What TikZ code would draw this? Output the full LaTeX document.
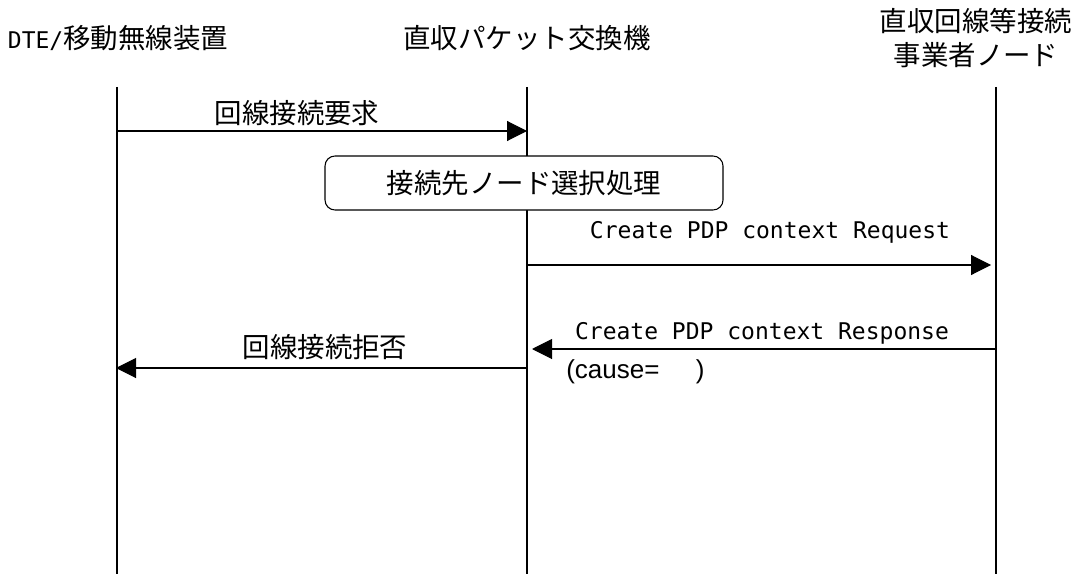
\documentclass[tikz,border=0pt]{standalone}
\usepackage{fontspec}
\setmainfont{Noto Sans CJK JP}
\newfontfamily\monofont{DejaVu Sans Mono}
\newfontfamily\latfont{Liberation Sans}
\usetikzlibrary{arrows.meta}
\begin{document}
\begin{tikzpicture}[x=0.75pt,y=-0.75pt,
  jp/.style={inner sep=0pt,font=\fontsize{20.6pt}{25.5pt}\selectfont},
  msgmono/.style={inner sep=0pt,font=\monofont\fontsize{17.25pt}{20pt}\selectfont},
  lifeline/.style={line width=0.8pt},
  msg/.style={line width=0.8pt,-{Triangle[length=15pt,width=15pt]}},
  procbox/.style={draw,fill=white,line width=0.8pt,rounded corners=7.5pt,
    minimum width=298.5pt,minimum height=40.5pt,inner sep=0pt,
    font=\fontsize{20.6pt}{25.5pt}\selectfont}]
\useasboundingbox (0,0) rectangle (1080,574);

% entity headers
\node[jp] (hA) at (118,38) {{\monofont\fontsize{17.25pt}{20pt}\selectfont DTE/}移動無線装置};
\node[jp] (hB) at (527,38) {直収パケット交換機};
\node[jp,align=center] (hC) at (976,38) {直収回線等接続\\事業者ノード};

% lifelines
\coordinate (tA) at (117,87);  \coordinate (bA) at (117,574);
\coordinate (tB) at (527,87);  \coordinate (bB) at (527,574);
\coordinate (tC) at (996,87);  \coordinate (bC) at (996,574);
\draw[lifeline] (tA) -- (bA);
\draw[lifeline] (tB) -- (bB);
\draw[lifeline] (tC) -- (bC);

% message endpoints
\coordinate (m1s) at (117,131); \coordinate (m1e) at (527,131);
\coordinate (m2s) at (527,265); \coordinate (m2e) at (991,265);
\coordinate (m3s) at (996,349); \coordinate (m3e) at (532,349);
\coordinate (m4s) at (527,368); \coordinate (m4e) at (116,368);

% connection request
\draw[msg] (m1s) -- (m1e);
\node[jp] (l1) at (297,113) {回線接続要求};

% destination node selection (covers the lifeline)
\node[procbox] (proc) at (524,183) {接続先ノード選択処理};

% PDP context request
\draw[msg] (m2s) -- (m2e);
\node[msgmono] (l2) at (770,232) {Create PDP context Request};

% PDP context response
\draw[msg] (m3s) -- (m3e);
\node[msgmono] (l3) at (762,333) {Create PDP context Response};
\node[inner sep=0pt,anchor=west,font=\latfont\fontsize{19.5pt}{22pt}\selectfont] (l3b) at (566,372) {(cause=\hspace{1.4em})};

% connection rejected
\draw[msg] (m4s) -- (m4e);
\node[jp] (l4) at (325,347) {回線接続拒否};
\end{tikzpicture}
\end{document}
